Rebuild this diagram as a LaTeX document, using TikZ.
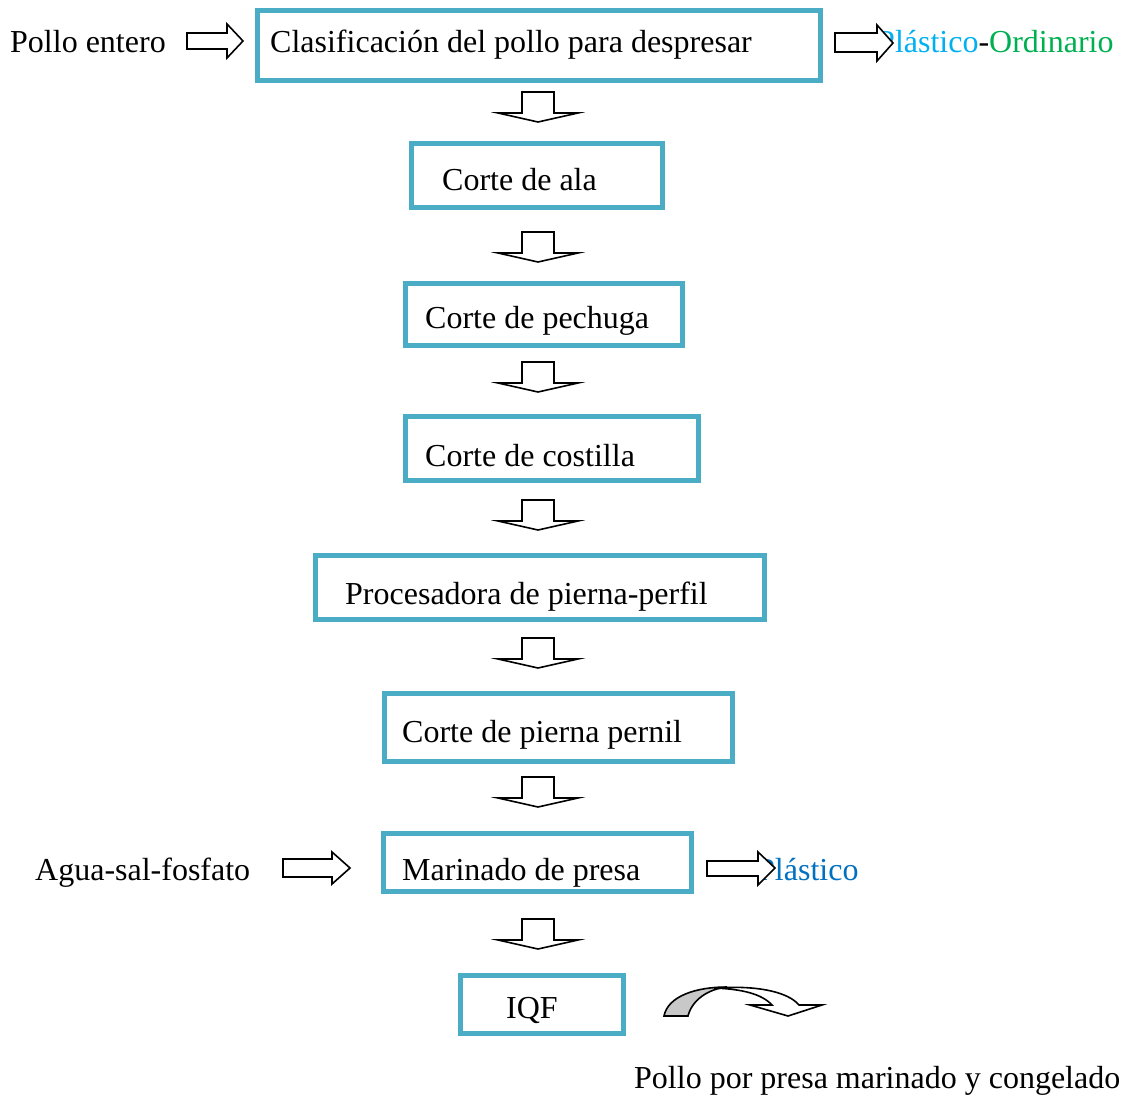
\documentclass[tikz,border=0pt]{standalone}
\usepackage{fontspec}
\setmainfont{Liberation Serif}
\definecolor{boxteal}{HTML}{4BACC6}
\definecolor{plasticlight}{HTML}{00B0F0}
\definecolor{plasticdark}{HTML}{0070C0}
\definecolor{ordgreen}{HTML}{00B050}
\definecolor{curvegray}{HTML}{C8C8C8}
\begin{document}
\begin{tikzpicture}[x=1pt,y=-1pt,
  every node/.style={font=\fontsize{32}{38}\selectfont},
  stage/.style={draw=boxteal, line width=5pt},
  label/.style={anchor=base west, inner sep=0pt},
  blockarrow/.style={draw=black, fill=white, line width=1.6pt, line join=miter},
  downarrow/.pic={\draw[blockarrow] (-16,0) -- (16,0) -- (16,21) -- (40,21) -- (0,30) -- (-40,21) -- (-16,21) -- cycle;}
]
\useasboundingbox (0,0) rectangle (1125,1095);

% process stages
\draw[stage] (257,10) rectangle (820,80);
\draw[stage] (411,143) rectangle (662,207);
\draw[stage] (405,283) rectangle (682,345);
\draw[stage] (405,416) rectangle (698,480);
\draw[stage] (315,555) rectangle (764,619);
\draw[stage] (384,693) rectangle (732,761);
\draw[stage] (383,833) rectangle (691,891);
\draw[stage] (460,975) rectangle (623,1033);

\node[label] (t1) at (270,52) {Clasificación del pollo para despresar};
\node[label] (t2) at (442,190) {Corte de ala};
\node[label] (t3) at (425,328) {Corte de pechuga};
\node[label] (t4) at (425,466) {Corte de costilla};
\node[label] (t5) at (345,604) {Procesadora de pierna-perfil};
\node[label] (t6) at (402,742) {Corte de pierna pernil};
\node[label] (t7) at (402,880) {Marinado de presa};
\node[label] (t8) at (506,1018) {IQF};

% inputs and outputs
\node[label] (in1) at (10,52) {Pollo entero};
\node[label] (in2) at (35,880) {Agua-sal-fosfato};
\node[label] (out1) at (877,52) {\textcolor{plasticlight}{Plástico}-\textcolor{ordgreen}{Ordinario}};
\node[label] (out2) at (757,880) {\textcolor{plasticdark}{Plástico}};
\node[label] (prod) at (634,1088) {Pollo por presa marinado y congelado};

% flow arrows between stages
\foreach \y in {92,232,362,500,638,777,919}
  \pic at (538,\y) {downarrow};

% side arrows
\draw[blockarrow] (187,33) -- (227,33) -- (227,24) -- (243,41) -- (227,58) -- (227,49) -- (187,49) -- cycle;
\draw[blockarrow] (835,33) -- (877,33) -- (877,25) -- (893,43) -- (877,61) -- (877,52) -- (835,52) -- cycle;
\draw[blockarrow] (283,859) -- (332,859) -- (332,852) -- (350,868) -- (332,884) -- (332,877) -- (283,877) -- cycle;
\draw[blockarrow] (707,861) -- (758,861) -- (758,852) -- (775,868) -- (758,885) -- (758,876) -- (707,876) -- cycle;

% curved output arrow
\draw[blockarrow, fill=curvegray] (664,1016) .. controls (668,996) and (696,987) .. (727,987)
  .. controls (708,989) and (692,1000) .. (688,1016) -- cycle;
\draw[blockarrow] (714,988) .. controls (758,985) and (788,992) .. (799,1005)
  -- (822,1005) -- (788,1016) -- (750,1005) -- (772,1005)
  .. controls (762,994) and (742,989) .. (714,988) -- cycle;
\end{tikzpicture}
\end{document}
